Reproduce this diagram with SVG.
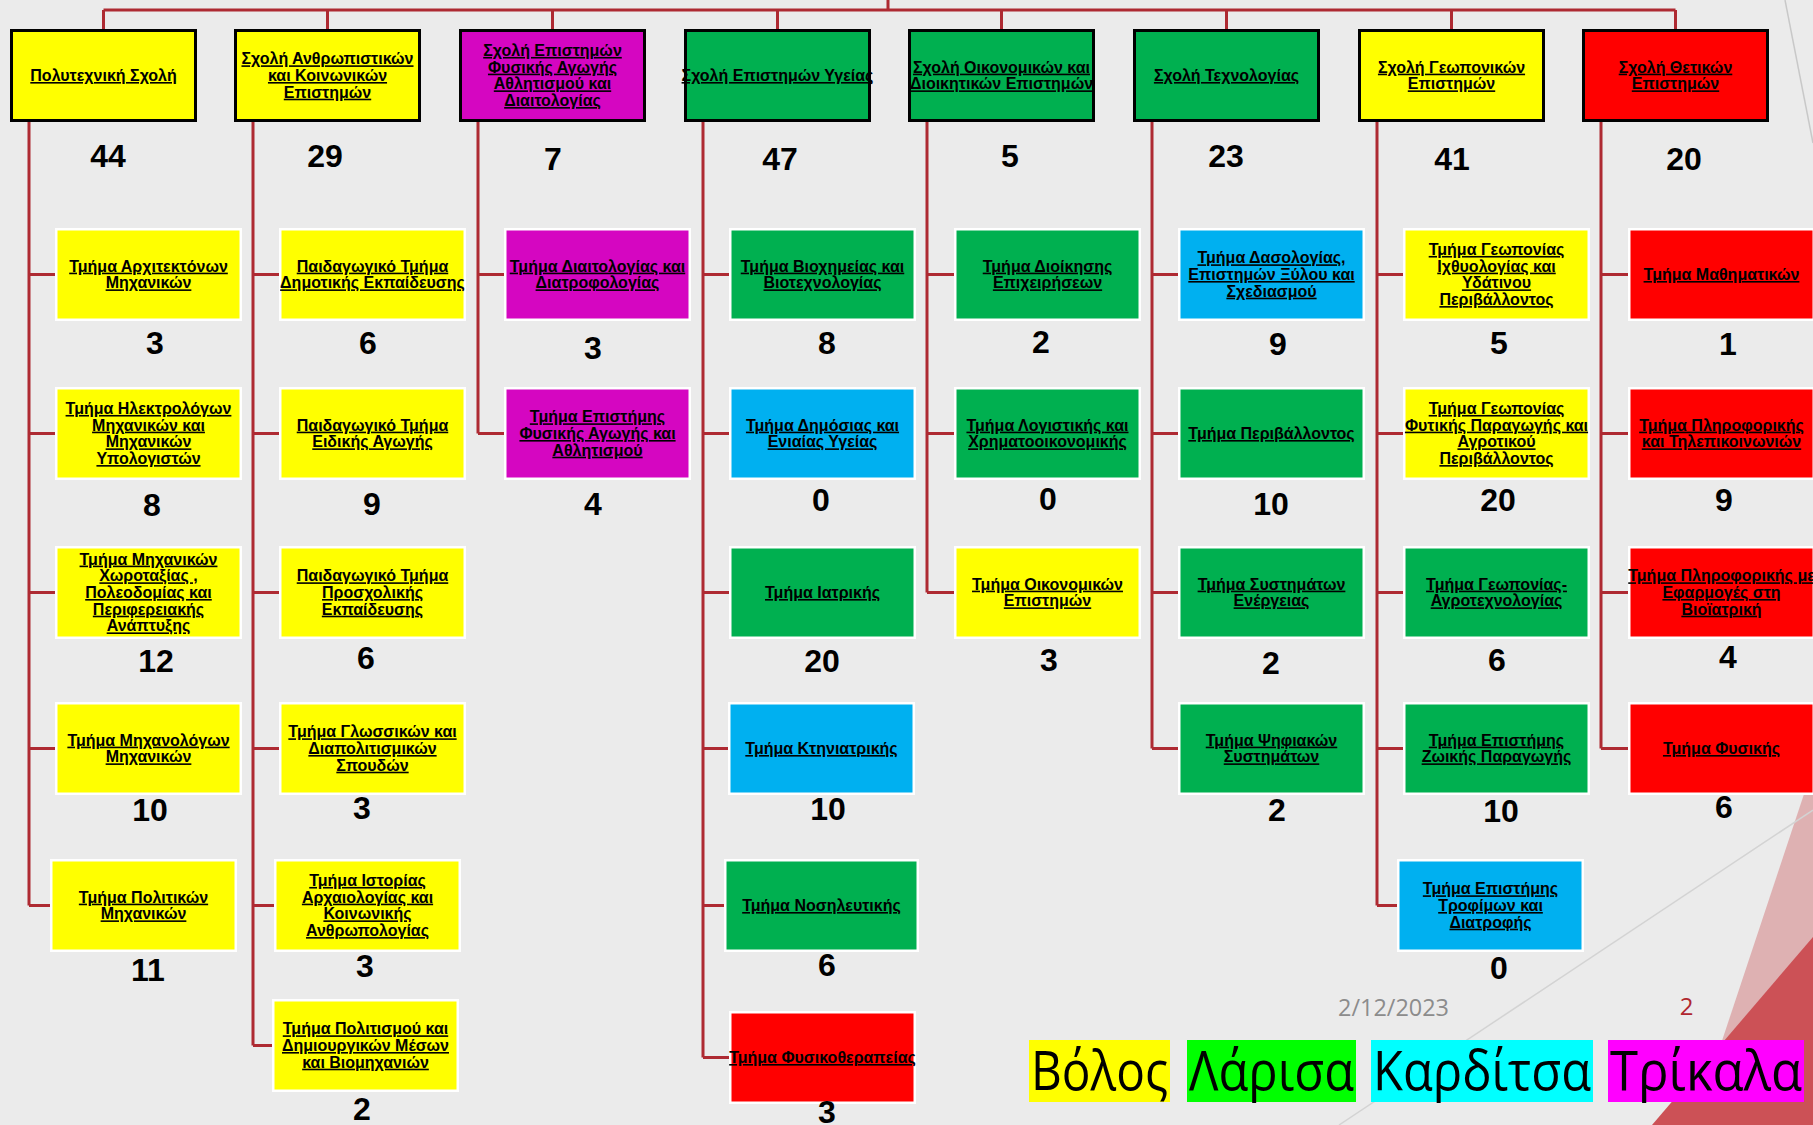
<svg xmlns="http://www.w3.org/2000/svg" width="1813" height="1125" viewBox="0 0 1813 1125">
<style>
.sch{stroke:#000;stroke-width:3}
.dep{stroke:#fff;stroke-width:2.5}
.y{fill:#FFFF00}.g{fill:#00B050}.b{fill:#00B0F0}.r{fill:#FF0000}.m{fill:#D506C1}
.lbl{font-family:"Liberation Sans",Arial,sans-serif;font-weight:bold;font-size:16px;text-anchor:middle;text-decoration:underline;fill:#000}
.num{font-family:"Liberation Sans",Arial,sans-serif;font-weight:bold;font-size:32px;text-anchor:middle;fill:#000}
.conn{stroke:#AE2A32;stroke-width:3;fill:none}
.leg{font-family:"Open Sans","Noto Sans",sans-serif;font-size:54px;fill:#000;text-anchor:middle}
</style>
<rect x="0" y="0" width="1813" height="1125" fill="#EBEBEB"/>
<g id="decor">
<polygon points="1813,767 1813,1125 1694,1125" fill="#DEB1B2"/>
<polygon points="1813,937 1813,1125 1652,1125" fill="#CC5156"/>
<line x1="1813" y1="810" x2="1339" y2="1125" stroke="#D3D3D3" stroke-width="1.5"/>
<line x1="1785" y1="0" x2="1813" y2="143" stroke="#C8C8C8" stroke-width="1.5"/>
</g>
<g id="connectors" class="conn">
<path d="M888,0V10M103.5,10H1675.5M103.5,10V29M327.5,10V29M552.5,10V29M777.5,10V29M1001.5,10V29M1226.5,10V29M1451.5,10V29M1675.5,10V29"/>
<path d="M29,122V905.5M29,274.5H55M29,433.5H55M29,592.5H55M29,748.5H55M29,905.5H50"/>
<path d="M253,122V1045.5M253,274.5H279M253,433.5H279M253,592.5H279M253,748.5H279M253,905.5H274M253,1045.5H272"/>
<path d="M478,122V433.5M478,274.5H504M478,433.5H504"/>
<path d="M703,122V1057.5M703,274.5H729M703,433.5H729M703,592.5H729M703,748.5H728M703,905.5H724M703,1057.5H729"/>
<path d="M927,122V592.5M927,274.5H954M927,433.5H954M927,592.5H954"/>
<path d="M1152,122V748.5M1152,274.5H1178M1152,433.5H1178M1152,592.5H1178M1152,748.5H1178"/>
<path d="M1377,122V905.5M1377,274.5H1403M1377,433.5H1403M1377,592.5H1403M1377,748.5H1403M1377,905.5H1397"/>
<path d="M1601,122V748.5M1601,274.5H1628M1601,433.5H1628M1601,592.5H1628M1601,748.5H1628"/>
</g>

<!-- Schools -->
<g id="s1"><rect class="sch y" x="11.5" y="30.5" width="184" height="90"/><text class="lbl" x="103.5" y="81">Πολυτεχνική Σχολή</text><text class="num" x="108" y="166.5">44</text></g>
<g id="s2"><rect class="sch y" x="235.5" y="30.5" width="184" height="90"/><text class="lbl" y="64.3"><tspan x="327.5">Σχολή Ανθρωπιστικών</tspan><tspan x="327.5" dy="16.7">και Κοινωνικών</tspan><tspan x="327.5" dy="16.7">Επιστημών</tspan></text><text class="num" x="325" y="166.5">29</text></g>
<g id="s3"><rect class="sch m" x="460.5" y="30.5" width="184" height="90"/><text class="lbl" y="55.95"><tspan x="552.5">Σχολή Επιστημών</tspan><tspan x="552.5" dy="16.7">Φυσικής Αγωγής</tspan><tspan x="552.5" dy="16.7">Αθλητισμού και</tspan><tspan x="552.5" dy="16.7">Διαιτολογίας</tspan></text><text class="num" x="553" y="169.5">7</text></g>
<g id="s4"><rect class="sch g" x="685.5" y="30.5" width="184" height="90"/><text class="lbl" x="777.5" y="81">Σχολή Επιστημών Υγείας</text><text class="num" x="780" y="169.5">47</text></g>
<g id="s5"><rect class="sch g" x="909.5" y="30.5" width="184" height="90"/><text class="lbl" y="72.65"><tspan x="1001.5">Σχολή Οικονομικών και</tspan><tspan x="1001.5" dy="16.7">Διοικητικών Επιστημών</tspan></text><text class="num" x="1010" y="166.5">5</text></g>
<g id="s6"><rect class="sch g" x="1134.5" y="30.5" width="184" height="90"/><text class="lbl" x="1226.5" y="81">Σχολή Τεχνολογίας</text><text class="num" x="1226" y="166.5">23</text></g>
<g id="s7"><rect class="sch y" x="1359.5" y="30.5" width="184" height="90"/><text class="lbl" y="72.65"><tspan x="1451.5">Σχολή Γεωπονικών</tspan><tspan x="1451.5" dy="16.7">Επιστημών</tspan></text><text class="num" x="1452" y="169.5">41</text></g>
<g id="s8"><rect class="sch r" x="1583.5" y="30.5" width="184" height="90"/><text class="lbl" y="72.65"><tspan x="1675.5">Σχολή Θετικών</tspan><tspan x="1675.5" dy="16.7">Επιστημών</tspan></text><text class="num" x="1684" y="169.5">20</text></g>

<!-- Column 1 -->
<g id="a1"><rect class="dep y" x="56.25" y="229.25" width="184.5" height="90.5"/><text class="lbl" y="271.65"><tspan x="148.5">Τμήμα Αρχιτεκτόνων</tspan><tspan x="148.5" dy="16.7">Μηχανικών</tspan></text><text class="num" x="155" y="353.5">3</text></g>
<g id="a2"><rect class="dep y" x="56.25" y="388.25" width="184.5" height="90.5"/><text class="lbl" y="413.95"><tspan x="148.5">Τμήμα Ηλεκτρολόγων</tspan><tspan x="148.5" dy="16.7">Μηχανικών και</tspan><tspan x="148.5" dy="16.7">Μηχανικών</tspan><tspan x="148.5" dy="16.7">Υπολογιστών</tspan></text><text class="num" x="152" y="515.5">8</text></g>
<g id="a3"><rect class="dep y" x="56.25" y="547.25" width="184.5" height="90.5"/><text class="lbl" y="564.6"><tspan x="148.5">Τμήμα Μηχανικών</tspan><tspan x="148.5" dy="16.7">Χωροταξίας ,</tspan><tspan x="148.5" dy="16.7">Πολεοδομίας και</tspan><tspan x="148.5" dy="16.7">Περιφερειακής</tspan><tspan x="148.5" dy="16.7">Ανάπτυξης</tspan></text><text class="num" x="156" y="671.5">12</text></g>
<g id="a4"><rect class="dep y" x="56.25" y="703.25" width="184.5" height="90.5"/><text class="lbl" y="745.65"><tspan x="148.5">Τμήμα Μηχανολόγων</tspan><tspan x="148.5" dy="16.7">Μηχανικών</tspan></text><text class="num" x="150" y="820.5">10</text></g>
<g id="a5"><rect class="dep y" x="51.25" y="860.25" width="184.5" height="90.5"/><text class="lbl" y="902.65"><tspan x="143.5">Τμήμα Πολιτικών</tspan><tspan x="143.5" dy="16.7">Μηχανικών</tspan></text><text class="num" x="148" y="980.5">11</text></g>

<!-- Column 2 -->
<g id="b1"><rect class="dep y" x="280.25" y="229.25" width="184.5" height="90.5"/><text class="lbl" y="271.65"><tspan x="372.5">Παιδαγωγικό Τμήμα</tspan><tspan x="372.5" dy="16.7">Δημοτικής Εκπαίδευσης</tspan></text><text class="num" x="368" y="353.5">6</text></g>
<g id="b2"><rect class="dep y" x="280.25" y="388.25" width="184.5" height="90.5"/><text class="lbl" y="430.65"><tspan x="372.5">Παιδαγωγικό Τμήμα</tspan><tspan x="372.5" dy="16.7">Ειδικής Αγωγής</tspan></text><text class="num" x="372" y="514.5">9</text></g>
<g id="b3"><rect class="dep y" x="280.25" y="547.25" width="184.5" height="90.5"/><text class="lbl" y="581.3"><tspan x="372.5">Παιδαγωγικό Τμήμα</tspan><tspan x="372.5" dy="16.7">Προσχολικής</tspan><tspan x="372.5" dy="16.7">Εκπαίδευσης</tspan></text><text class="num" x="366" y="668.5">6</text></g>
<g id="b4"><rect class="dep y" x="280.25" y="703.25" width="184.5" height="90.5"/><text class="lbl" y="737.3"><tspan x="372.5">Τμήμα Γλωσσικών και</tspan><tspan x="372.5" dy="16.7">Διαπολιτισμικών</tspan><tspan x="372.5" dy="16.7">Σπουδών</tspan></text><text class="num" x="362" y="818.5">3</text></g>
<g id="b5"><rect class="dep y" x="275.25" y="860.25" width="184.5" height="90.5"/><text class="lbl" y="885.95"><tspan x="367.5">Τμήμα Ιστορίας</tspan><tspan x="367.5" dy="16.7">Αρχαιολογίας και</tspan><tspan x="367.5" dy="16.7">Κοινωνικής</tspan><tspan x="367.5" dy="16.7">Ανθρωπολογίας</tspan></text><text class="num" x="365" y="976.5">3</text></g>
<g id="b6"><rect class="dep y" x="273.25" y="1000.25" width="184.5" height="90.5"/><text class="lbl" y="1034.3"><tspan x="365.5">Τμήμα Πολιτισμού και</tspan><tspan x="365.5" dy="16.7">Δημιουργικών Μέσων</tspan><tspan x="365.5" dy="16.7">και Βιομηχανιών</tspan></text><text class="num" x="362" y="1119.5">2</text></g>

<!-- Column 3 -->
<g id="c1"><rect class="dep m" x="505.25" y="229.25" width="184.5" height="90.5"/><text class="lbl" y="271.65"><tspan x="597.5">Τμήμα Διαιτολογίας και</tspan><tspan x="597.5" dy="16.7">Διατροφολογίας</tspan></text><text class="num" x="593" y="358.5">3</text></g>
<g id="c2"><rect class="dep m" x="505.25" y="388.25" width="184.5" height="90.5"/><text class="lbl" y="422.3"><tspan x="597.5">Τμήμα Επιστήμης</tspan><tspan x="597.5" dy="16.7">Φυσικής Αγωγής και</tspan><tspan x="597.5" dy="16.7">Αθλητισμού</tspan></text><text class="num" x="593" y="514.5">4</text></g>

<!-- Column 4 -->
<g id="d1"><rect class="dep g" x="730.25" y="229.25" width="184.5" height="90.5"/><text class="lbl" y="271.65"><tspan x="822.5">Τμήμα Βιοχημείας και</tspan><tspan x="822.5" dy="16.7">Βιοτεχνολογίας</tspan></text><text class="num" x="827" y="353.5">8</text></g>
<g id="d2"><rect class="dep b" x="730.25" y="388.25" width="184.5" height="90.5"/><text class="lbl" y="430.65"><tspan x="822.5">Τμήμα Δημόσιας και</tspan><tspan x="822.5" dy="16.7">Ενιαίας Υγείας</tspan></text><text class="num" x="821" y="510.5">0</text></g>
<g id="d3"><rect class="dep g" x="730.25" y="547.25" width="184.5" height="90.5"/><text class="lbl" x="822.5" y="598">Τμήμα Ιατρικής</text><text class="num" x="822" y="671.5">20</text></g>
<g id="d4"><rect class="dep b" x="729.25" y="703.25" width="184.5" height="90.5"/><text class="lbl" x="821.5" y="754">Τμήμα Κτηνιατρικής</text><text class="num" x="828" y="819.5">10</text></g>
<g id="d5"><rect class="dep g" x="725.25" y="860.25" width="192.5" height="90.5"/><text class="lbl" x="821.5" y="911">Τμήμα Νοσηλευτικής</text><text class="num" x="827" y="975.5">6</text></g>
<g id="d6"><rect class="dep r" x="730.25" y="1012.25" width="184.5" height="90.5"/><text class="lbl" x="822.5" y="1063">Τμήμα Φυσικοθεραπείας</text><text class="num" x="827" y="1123">3</text></g>

<!-- Column 5 -->
<g id="e1"><rect class="dep g" x="955.25" y="229.25" width="184.5" height="90.5"/><text class="lbl" y="271.65"><tspan x="1047.5">Τμήμα Διοίκησης</tspan><tspan x="1047.5" dy="16.7">Επιχειρήσεων</tspan></text><text class="num" x="1041" y="352.5">2</text></g>
<g id="e2"><rect class="dep g" x="955.25" y="388.25" width="184.5" height="90.5"/><text class="lbl" y="430.65"><tspan x="1047.5">Τμήμα Λογιστικής και</tspan><tspan x="1047.5" dy="16.7">Χρηματοοικονομικής</tspan></text><text class="num" x="1048" y="509.5">0</text></g>
<g id="e3"><rect class="dep y" x="955.25" y="547.25" width="184.5" height="90.5"/><text class="lbl" y="589.65"><tspan x="1047.5">Τμήμα Οικονομικών</tspan><tspan x="1047.5" dy="16.7">Επιστημών</tspan></text><text class="num" x="1049" y="670.5">3</text></g>

<!-- Column 6 -->
<g id="f1"><rect class="dep b" x="1179.25" y="229.25" width="184.5" height="90.5"/><text class="lbl" y="263.3"><tspan x="1271.5">Τμήμα Δασολογίας,</tspan><tspan x="1271.5" dy="16.7">Επιστημών Ξύλου και</tspan><tspan x="1271.5" dy="16.7">Σχεδιασμού</tspan></text><text class="num" x="1278" y="354.5">9</text></g>
<g id="f2"><rect class="dep g" x="1179.25" y="388.25" width="184.5" height="90.5"/><text class="lbl" x="1271.5" y="439">Τμήμα Περιβάλλοντος</text><text class="num" x="1271" y="514.5">10</text></g>
<g id="f3"><rect class="dep g" x="1179.25" y="547.25" width="184.5" height="90.5"/><text class="lbl" y="589.65"><tspan x="1271.5">Τμήμα Συστημάτων</tspan><tspan x="1271.5" dy="16.7">Ενέργειας</tspan></text><text class="num" x="1271" y="673.5">2</text></g>
<g id="f4"><rect class="dep g" x="1179.25" y="703.25" width="184.5" height="90.5"/><text class="lbl" y="745.65"><tspan x="1271.5">Τμήμα Ψηφιακών</tspan><tspan x="1271.5" dy="16.7">Συστημάτων</tspan></text><text class="num" x="1277" y="820.5">2</text></g>

<!-- Column 7 -->
<g id="g1"><rect class="dep y" x="1404.25" y="229.25" width="184.5" height="90.5"/><text class="lbl" y="254.95"><tspan x="1496.5">Τμήμα Γεωπονίας</tspan><tspan x="1496.5" dy="16.7">Ιχθυολογίας και</tspan><tspan x="1496.5" dy="16.7">Υδάτινου</tspan><tspan x="1496.5" dy="16.7">Περιβάλλοντος</tspan></text><text class="num" x="1499" y="353.5">5</text></g>
<g id="g2"><rect class="dep y" x="1404.25" y="388.25" width="184.5" height="90.5"/><text class="lbl" y="413.95"><tspan x="1496.5">Τμήμα Γεωπονίας</tspan><tspan x="1496.5" dy="16.7">Φυτικής Παραγωγής και</tspan><tspan x="1496.5" dy="16.7">Αγροτικού</tspan><tspan x="1496.5" dy="16.7">Περιβάλλοντος</tspan></text><text class="num" x="1498" y="510.5">20</text></g>
<g id="g3"><rect class="dep g" x="1404.25" y="547.25" width="184.5" height="90.5"/><text class="lbl" y="589.65"><tspan x="1496.5">Τμήμα Γεωπονίας-</tspan><tspan x="1496.5" dy="16.7">Αγροτεχνολογίας</tspan></text><text class="num" x="1497" y="670.5">6</text></g>
<g id="g4"><rect class="dep g" x="1404.25" y="703.25" width="184.5" height="90.5"/><text class="lbl" y="745.65"><tspan x="1496.5">Τμήμα Επιστήμης</tspan><tspan x="1496.5" dy="16.7">Ζωικής Παραγωγής</tspan></text><text class="num" x="1501" y="821.5">10</text></g>
<g id="g5"><rect class="dep b" x="1398.25" y="860.25" width="184.5" height="90.5"/><text class="lbl" y="894.3"><tspan x="1490.5">Τμήμα Επιστήμης</tspan><tspan x="1490.5" dy="16.7">Τροφίμων και</tspan><tspan x="1490.5" dy="16.7">Διατροφής</tspan></text><text class="num" x="1499" y="978.5">0</text></g>

<!-- Column 8 -->
<g id="h1"><rect class="dep r" x="1629.25" y="229.25" width="184.5" height="90.5"/><text class="lbl" x="1721.5" y="280">Τμήμα Μαθηματικών</text><text class="num" x="1728" y="354.5">1</text></g>
<g id="h2"><rect class="dep r" x="1629.25" y="388.25" width="184.5" height="90.5"/><text class="lbl" y="430.65"><tspan x="1721.5">Τμήμα Πληροφορικής</tspan><tspan x="1721.5" dy="16.7">και Τηλεπικοινωνιών</tspan></text><text class="num" x="1724" y="510.5">9</text></g>
<g id="h3"><rect class="dep r" x="1629.25" y="547.25" width="184.5" height="90.5"/><text class="lbl" y="581.3"><tspan x="1721.5">Τμήμα Πληροφορικής με</tspan><tspan x="1721.5" dy="16.7">Εφαρμογές στη</tspan><tspan x="1721.5" dy="16.7">Βιοϊατρική</tspan></text><text class="num" x="1728" y="667.5">4</text></g>
<g id="h4"><rect class="dep r" x="1629.25" y="703.25" width="184.5" height="90.5"/><text class="lbl" x="1721.5" y="754">Τμήμα Φυσικής</text><text class="num" x="1724" y="817.5">6</text></g>

<!-- Footer -->
<g id="footer">
<text x="1393.5" y="1016" font-family="'Open Sans','Noto Sans',sans-serif" font-size="24" fill="#8C8C8C" text-anchor="middle" textLength="111" lengthAdjust="spacingAndGlyphs">2/12/2023</text>
<text x="1686.5" y="1015" font-family="'Open Sans','Noto Sans',sans-serif" font-size="24" fill="#B0272F" text-anchor="middle">2</text>
</g>

<!-- Legend -->
<g id="legend">
<rect x="1029" y="1040" width="141" height="62" fill="#FFFF00"/>
<text class="leg" x="1099.5" y="1090" textLength="137" lengthAdjust="spacingAndGlyphs">Βόλος</text>
<rect x="1187" y="1040" width="169" height="62" fill="#00FF00"/>
<text class="leg" x="1271.5" y="1090" textLength="165" lengthAdjust="spacingAndGlyphs">Λάρισα</text>
<rect x="1371" y="1040" width="222" height="62" fill="#00FFFF"/>
<text class="leg" x="1482" y="1090" textLength="218" lengthAdjust="spacingAndGlyphs">Καρδίτσα</text>
<rect x="1608" y="1040" width="196" height="62" fill="#FF00FF"/>
<text class="leg" x="1706" y="1090" textLength="192" lengthAdjust="spacingAndGlyphs">Τρίκαλα</text>
</g>
</svg>
